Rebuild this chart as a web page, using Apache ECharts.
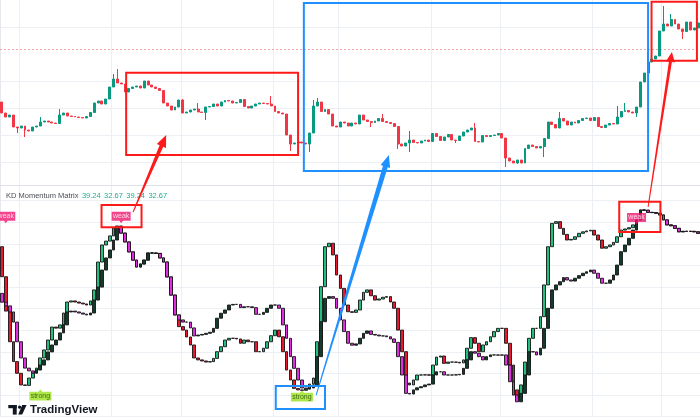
<!DOCTYPE html>
<html><head><meta charset="utf-8">
<script src="https://cdn.jsdelivr.net/npm/echarts@6/dist/echarts.min.js"></script>
<style>html,body{margin:0;padding:0;background:#fff}#c{width:700px;height:420px}</style>
</head><body><div id="c"></div>
<script>
// ---------- price panel ----------
const priceOpen0 = 98;
const priceClose = [
 87, 83, 85, 73, 72, 74, 70, 69, 73, 74,
 78, 79, 78, 77, 76.5, 85, 87, 84, 83.5, 83,
 82.5, 82, 83.5, 87.5, 97, 99, 96, 101, 113, 121,
 117, 116, 108, 111.5, 113, 114, 112, 119, 115, 113,
 111.5, 109.5, 97, 94, 90, 93, 100, 87, 88, 90,
 91, 88, 87.5, 93, 93.5, 96, 94, 98, 99.5, 99,
 97, 97.5, 100.5, 93.5, 92, 94, 96, 97, 96.5, 96,
 94, 88.5, 87, 86, 65, 56, 57, 58, 57, 56,
 67, 94, 98, 88.5, 90.5, 86, 74, 73, 78, 77,
 74, 77, 76, 85, 80, 78.5, 77.5, 79, 81.5, 78.5,
 77.5, 76.5, 73.5, 56, 54, 57, 60, 57.5, 57, 59,
 60, 58.5, 66.5, 63.5, 59.5, 63, 65.5, 60, 59.5, 64,
 68, 70, 72, 58.5, 58, 64.5, 63.5, 64.5, 65, 66.5,
 62, 42, 39, 37, 40, 37, 51.5, 55, 53.5, 52,
 53.5, 61.5, 78, 75.5, 72, 81.5, 79, 75, 78, 77,
 79.5, 81.5, 82, 79.5, 82.5, 73.5, 72.5, 75, 76.5, 76,
 83, 88.5, 89.5, 88, 87, 93, 118, 127, 138, 141,
 144, 169, 176, 174, 180.5, 176, 171, 168.5, 178, 170,
 172, 177
];
const priceHighs = [[10,83],[15,91],[29,126],[30,131],[47,101],[51,97],[70,104],[81,100],[82,102],[99,86],[106,69],[123,77],[145,88],[160,94],[162,97],[168,148],[172,194],[174,186]];
const priceLows = [[4,67],[6,63],[53,80],[75,49],[80,48],[96,73],[103,51],[106,48],[118,57],[131,33],[134,36],[141,43],[165,83],[177,161]];
const priceGridLevels = [173, 119, 92, 65, 38];
const alertLevel = 151;

// ---------- KD Momentum Matrix ----------
const kOpen0 = 78.7;
const kValues = [
 64.8, 48.9, 34.7, 25.5, 20.1, 14.7, 14.5, 17.9, 20.2, 22.5,
 27.2, 30.9, 35.5, 41.5, 41.0, 42.5, 48.0, 53.1, 53.6, 53.1,
 52.6, 52.2, 51.7, 53.6, 58.7, 71.6, 79.5, 81.3, 83.7, 87.4,
 88.3, 85.0, 80.9, 76.3, 72.5, 69.3, 70.7, 72.5, 75.8, 75.8,
 75.6, 73.5, 71.6, 64.7, 56.3, 47.1, 41.7, 40.1, 36.9, 33.2,
 27.2, 26.3, 25.8, 25.3, 25.5, 27.0, 30.1, 32.4, 35.5, 36.3,
 36.3, 36.0, 34.0, 35.5, 34.7, 34.7, 30.1, 30.1, 31.7, 34.7,
 37.5, 40.1, 37.0, 30.1, 21.6, 17.0, 13.1, 12.4, 12.2, 12.8,
 15.1, 17.9, 34.7, 60.2, 78.7, 80.3, 74.9, 65.6, 59.4, 51.7,
 48.6, 48.3, 49.4, 54.0, 57.6, 58.7, 56.0, 54.0, 54.5, 55.3,
 55.6, 53.1, 50.2, 40.1, 30.1, 15.6, 14.7, 17.0, 19.3, 19.3,
 19.4, 19.2, 23.9, 27.6, 28.1, 24.7, 25.3, 25.3, 25.2, 24.9,
 26.3, 31.7, 36.6, 34.0, 30.1, 33.2, 34.7, 37.0, 39.4, 40.9,
 40.9, 34.0, 23.9, 12.4, 8.7, 14.7, 25.3, 36.3, 40.9, 40.9,
 46.3, 61.0, 78.7, 89.5, 90.3, 87.2, 84.4, 81.8, 82.1, 83.3,
 84.9, 85.6, 86.0, 86.3, 84.1, 81.8, 78.0, 78.7, 79.5, 80.7,
 83.3, 86.4, 86.9, 87.5, 88.8, 91.1, 95.7, 95.6, 94.6, 94.5,
 94.2, 93.4, 91.1, 88.8, 88.4, 87.2, 85.6, 85.8, 85.8, 85.8,
 85.6, 84.9
];
const dOpen0 = 57.1;
const dValues = [
 53.0, 51.3, 48.5, 43.8, 34.7, 27.2, 22.5, 21.2, 20.2, 21.6,
 23.9, 26.3, 30.0, 33.2, 35.5, 38.8, 42.5, 48.5, 48.9, 48.5,
 48.0, 47.5, 47.1, 48.0, 54.0, 60.0, 67.9, 73.5, 77.2, 81.8,
 87.8, 85.0, 80.9, 76.3, 72.5, 69.3, 70.7, 72.5, 75.8, 75.8,
 75.6, 73.5, 71.6, 64.7, 56.3, 47.1, 44.8, 43.8, 43.8, 41.1,
 37.4, 37.8, 38.1, 38.6, 39.1, 40.9, 45.6, 47.9, 49.4, 51.7,
 52.0, 52.0, 50.5, 50.9, 50.9, 50.5, 47.4, 47.4, 48.3, 50.2,
 51.7, 51.7, 50.2, 42.5, 36.3, 27.8, 22.4, 17.0, 13.3, 12.9,
 13.3, 14.7, 27.8, 44.0, 54.8, 55.6, 54.8, 50.2, 44.8, 39.4,
 34.0, 33.1, 33.7, 36.3, 38.6, 39.7, 38.1, 37.8, 37.4, 37.4,
 37.0, 36.0, 34.4, 27.8, 19.3, 10.8, 10.5, 12.4, 13.4, 13.9,
 14.7, 15.1, 19.3, 20.8, 20.8, 19.3, 19.3, 19.3, 19.4, 19.6,
 22.4, 26.3, 30.1, 29.4, 27.8, 26.3, 27.8, 28.6, 28.6, 28.5,
 28.6, 23.9, 16.2, 10.0, 6.9, 10.8, 19.3, 30.1, 30.0, 28.6,
 31.7, 40.9, 50.2, 58.7, 61.0, 62.5, 64.4, 63.3, 62.8, 64.1,
 65.3, 66.4, 67.1, 67.9, 66.4, 64.1, 61.8, 61.8, 63.3, 65.6,
 70.2, 76.4, 79.5, 82.6, 86.4, 91.1, 95.7, 95.6, 94.6, 94.5,
 94.2, 93.4, 91.1, 88.8, 88.4, 87.2, 85.6, 85.8, 85.8, 85.8,
 85.6, 84.9
];
const legendTitle = 'KD Momentum Matrix';
const legendValues = ['39.24', '32.67', '39.24', '32.67'];
const weakMarks = [[1, 92.2], [31, 92.2], [165, 91.6]];
const strongMarks = [[10, 10.1], [78, 9.6]];
const timeGridIdx = [5, 29, 47, 71, 88, 112, 130, 154, 172];

// annotations drawn by the author, in data coordinates [panel, barIndex, value]
const boxes = [
  {panel: 0, i0: 32.3, v0: 127.3, i1: 77.0, v1: 45, color: '#ff1a1a'},
  {panel: 0, i0: 78.5, v0: 197, i1: 168.0, v1: 29, color: '#1e90ff'},
  {panel: 0, i0: 168.9, v0: 198.3, i1: 180.7, v1: 139.3, color: '#ff1a1a'},
  {panel: 1, i0: 25.9, v0: 98.0, i1: 36.3, v1: 87.7, color: '#ff1a1a'},
  {panel: 1, i0: 71.2, v0: 14.2, i1: 84.0, v1: 3.6, color: '#1e90ff'},
  {panel: 1, i0: 160.5, v0: 99.5, i1: 171.2, v1: 85.5, color: '#ff1a1a'}
];
const arrows = [
  {from: [1, 34.1, 94.8], to: [0, 42.7, 65], color: '#ff1a1a', w0: 1, w1: 4, hl: 12, hw: 10},
  {from: [1, 81.7, 10.0], to: [0, 100.6, 45], color: '#1e90ff', w0: 1, w1: 5, hl: 12, hw: 10},
  {from: [1, 168.0, 97.1], to: [0, 174.2, 148], color: '#ff1a1a', w0: 1, w1: 3, hl: 10, hw: 9}
];

// ---------- build ----------
const cats = priceClose.map((_, i) => 'B' + (i + 1));
const hiMap = new Map(priceHighs), loMap = new Map(priceLows);
const priceData = priceClose.map((c, i) => {
  const o = i === 0 ? priceOpen0 : priceClose[i - 1];
  const hi = Math.max(o, c, hiMap.has(i) ? hiMap.get(i) : -Infinity);
  const lo = Math.min(o, c, loMap.has(i) ? loMap.get(i) : Infinity);
  return [o, c, lo, hi];
});
function stepBars(first, vals) {
  return vals.map((v, i) => {
    const o = i === 0 ? first : vals[i - 1];
    return [o, v, Math.min(o, v), Math.max(o, v)];
  });
}

const FONT = '"Liberation Sans", Arial, sans-serif';
const gridColor = '#eceff4';
const chart = echarts.init(document.getElementById('c'), null, {renderer: 'canvas'});
const xAxisBase = {
  type: 'category', data: cats, boundaryGap: true,
  axisTick: {show: false}, axisLabel: {show: false},
  splitLine: {show: true, interval: (idx) => timeGridIdx.includes(idx), lineStyle: {color: gridColor, width: 1}}
};
chart.setOption({
  animation: false,
  backgroundColor: '#ffffff',
  title: {
    left: 6, top: 191.5, padding: 0,
    text: '{a|' + legendTitle + '}' + legendValues.map(v => '{b|' + v + '}').join(''),
    textStyle: {fontWeight: 'normal', rich: {
      a: {fontSize: 7.5, fontWeight: 'normal', color: '#4a4d57', fontFamily: FONT},
      b: {fontSize: 7.5, fontWeight: 'normal', color: '#22ab94', fontFamily: FONT, padding: [0, 0, 0, 3.4]}
    }}
  },
  grid: [
    {left: 0, top: 0, width: 700, height: 185, outerBoundsMode: 'none'},
    {left: 0, top: 185, width: 700, height: 231.7, outerBoundsMode: 'none'}
  ],
  xAxis: [
    Object.assign({}, xAxisBase, {gridIndex: 0, axisLine: {show: true, lineStyle: {color: '#dfe2ea', width: 1}}}),
    Object.assign({}, xAxisBase, {gridIndex: 1, axisLine: {show: false}})
  ],
  yAxis: [
    {type: 'value', gridIndex: 0, min: 15, max: 200, scale: true,
     axisLabel: {show: false}, axisTick: {show: false}, splitLine: {show: false},
     axisLine: {show: true, lineStyle: {color: '#e6e8ee'}}},
    {type: 'value', gridIndex: 1, min: 0, max: 107.27, interval: 10,
     axisLabel: {show: false}, axisTick: {show: false},
     splitLine: {show: true, lineStyle: {color: gridColor, width: 1}},
     axisLine: {show: true, lineStyle: {color: '#e6e8ee'}}}
  ],
  series: [
    {
      type: 'candlestick', name: 'Price', xAxisIndex: 0, yAxisIndex: 0, data: priceData,
      barWidth: '62%', z: 3,
      itemStyle: {color: '#089981', color0: '#f23645', borderColor: '#089981', borderColor0: '#f23645', borderColorDoji: '#089981', borderWidth: 1},
      markLine: {
        silent: true, symbol: ['none', 'none'], label: {show: false}, z: 1, animation: false,
        data: priceGridLevels.map(v => ({yAxis: v, lineStyle: {color: gridColor, type: 'solid', width: 1}}))
          .concat([{yAxis: alertLevel, lineStyle: {color: '#f3a3aa', type: [2, 2], width: 1}}])
      }
    },
    {
      type: 'candlestick', name: 'K', xAxisIndex: 1, yAxisIndex: 1, data: stepBars(kOpen0, kValues),
      barWidth: '85%', z: 3,
      itemStyle: {color: '#22c07f', color0: '#ea1730', borderColor: '#151515', borderColor0: '#151515', borderColorDoji: '#151515', borderWidth: 0.9}
    },
    {
      type: 'candlestick', name: 'D', xAxisIndex: 1, yAxisIndex: 1, data: stepBars(dOpen0, dValues),
      barWidth: '85%', z: 4,
      itemStyle: {color: '#103b2d', color0: '#e02ee0', borderColor: '#151515', borderColor0: '#151515', borderColorDoji: '#151515', borderWidth: 0.9}
    },
    {
      type: 'scatter', name: 'weak', xAxisIndex: 1, yAxisIndex: 1, data: weakMarks, z: 6, silent: true,
      symbol: 'path://M0,0H20V9H12L10,11.5L8,9H0Z', symbolSize: [19, 11.5], symbolKeepAspect: false,
      itemStyle: {color: '#f0176f'},
      label: {show: true, formatter: 'weak', position: 'inside', offset: [0, -1.3], color: '#ffffff', fontSize: 7, fontFamily: FONT}
    },
    {
      type: 'scatter', name: 'strong', xAxisIndex: 1, yAxisIndex: 1, data: strongMarks, z: 6, silent: true,
      symbol: 'path://M0,2.5H9L11,0L13,2.5H22V11.5H0Z', symbolSize: [22, 11], symbolKeepAspect: false,
      itemStyle: {color: '#9be01c'},
      label: {show: true, formatter: 'strong', position: 'inside', offset: [0, 1.2], color: '#1f4d12', fontSize: 7, fontFamily: FONT}
    }
  ]
});

// ---------- annotations via the chart's own scales ----------
function xPx(panel, i) {
  const f = Math.floor(i), t = i - f;
  const a = chart.convertToPixel({xAxisIndex: panel}, f);
  const b = chart.convertToPixel({xAxisIndex: panel}, f + 1);
  return a + (b - a) * t;
}
function yPx(panel, v) { return chart.convertToPixel({yAxisIndex: panel}, v); }
const gfx = [];
boxes.forEach(b => {
  const x0 = xPx(b.panel, b.i0), x1 = xPx(b.panel, b.i1);
  const y0 = yPx(b.panel, b.v0), y1 = yPx(b.panel, b.v1);
  gfx.push({type: 'rect', z: 100, silent: true,
    shape: {x: Math.min(x0, x1), y: Math.min(y0, y1), width: Math.abs(x1 - x0), height: Math.abs(y1 - y0)},
    style: {fill: 'none', stroke: b.color, lineWidth: 2}});
});
arrows.forEach(a => {
  const T = [xPx(a.from[0], a.from[1]), yPx(a.from[0], a.from[2])];
  const H = [xPx(a.to[0], a.to[1]), yPx(a.to[0], a.to[2])];
  const dx = H[0] - T[0], dy = H[1] - T[1], L = Math.hypot(dx, dy);
  const ux = dx / L, uy = dy / L, nx = -uy, ny = ux;
  const B = [H[0] - ux * a.hl, H[1] - uy * a.hl];
  const p = (P, w) => [P[0] + nx * w / 2, P[1] + ny * w / 2];
  gfx.push({type: 'polygon', z: 101, silent: true,
    shape: {points: [p(T, a.w0), p(B, a.w1), p(B, a.hw), H, p(B, -a.hw), p(B, -a.w1), p(T, -a.w0)]},
    style: {fill: a.color}});
});
// TradingView watermark
gfx.push({type: 'group', z: 120, silent: true, children: [
  {type: 'rect', shape: {x: 8.3, y: 405, width: 8.4, height: 3.2}, style: {fill: '#131722'}},
  {type: 'rect', shape: {x: 12.8, y: 405, width: 3.9, height: 9.6}, style: {fill: '#131722'}},
  {type: 'circle', shape: {cx: 19.6, cy: 407.2, r: 1.6}, style: {fill: '#131722'}},
  {type: 'polygon', shape: {points: [[22.2, 405], [26.6, 405], [22.2, 414.6], [18.2, 414.6]]}, style: {fill: '#131722'}},
  {type: 'text', style: {x: 30, y: 410, text: 'TradingView', font: 'bold 11.5px ' + FONT, fill: '#131722', verticalAlign: 'middle', align: 'left'}}
]});
chart.setOption({graphic: gfx});
</script>
</body></html>
